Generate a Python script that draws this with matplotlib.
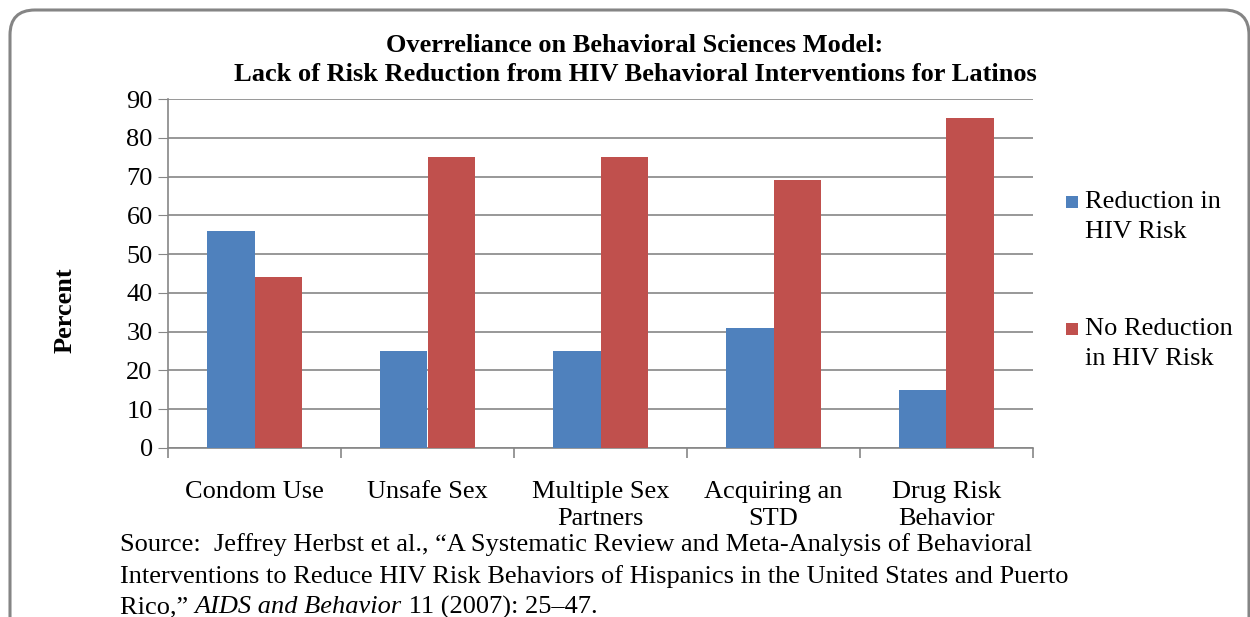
import matplotlib
matplotlib.use("Agg")
import matplotlib.pyplot as plt
import numpy as np
from matplotlib.patches import FancyBboxPatch, Rectangle

categories = ["Condom Use", "Unsafe Sex", "Multiple Sex\nPartners", "Acquiring an\nSTD", "Drug Risk\nBehavior"]
reduction = [56, 25, 25, 31, 15]
no_reduction = [44, 75, 75, 69, 85]
series_names = ["Reduction in\nHIV Risk", "No Reduction\nin HIV Risk"]
series_colors = ["#4F81BD", "#C0504D"]
yticks = [0, 10, 20, 30, 40, 50, 60, 70, 80, 90]

plt.rcParams['font.family'] = ['Liberation Serif', 'DejaVu Serif']
FS = 19
W, H = 1250, 617
fig = plt.figure(figsize=(W/100, H/100), dpi=100)

# rounded frame
frame = FancyBboxPatch((10/W, -40/H), 1239/W, (617 + 40 - 10)/H, boxstyle="round,pad=0,rounding_size=0.02",
                       transform=fig.transFigure, facecolor="white", edgecolor="#858585",
                       linewidth=2.2, mutation_aspect=W/H, zorder=-2)
fig.patches.append(frame)

ax = fig.add_axes([168/W, 1 - 448/H, (1033-168)/W, (448-99)/H])
ax.set_facecolor("none")
x = np.arange(len(categories))
bw = 0.277
ax.bar(x - bw/2, reduction, bw, color=series_colors[0], zorder=3)
ax.bar(x + bw/2, no_reduction, bw, color=series_colors[1], zorder=3)
ax.set_xlim(-0.5, len(categories) - 0.5)
ax.set_ylim(0, 90)
ax.set_yticks(yticks)
ax.yaxis.grid(True, color="#868686", linewidth=1.2, zorder=0)
ax.set_axisbelow(True)
for s in ["top", "right"]:
    ax.spines[s].set_visible(False)
for s in ["left", "bottom"]:
    ax.spines[s].set_color("#868686")
    ax.spines[s].set_linewidth(1.2)
ax.tick_params(axis="y", length=7, color="#868686", labelsize=FS, pad=4)
ax.set_xticks(x)
ax.set_xticklabels(categories, fontsize=FS, linespacing=1.3, va="top")
ax.tick_params(axis="x", length=0, pad=24)
ax.set_xticks(np.arange(len(categories) + 1) - 0.5, minor=True)
ax.tick_params(axis="x", which="minor", length=7, color="#868686", width=1.2)

fig.text(65/W, 1 - 310/H, "Percent", rotation=90, ha="center", va="center",
         fontsize=FS, fontweight="bold")

fig.text(0.5 + 0.008, 1 - 60/H, "Overreliance on Behavioral Sciences Model:\nLack of Risk Reduction from HIV Behavioral Interventions for Latinos",
         ha="center", va="center", fontsize=FS, fontweight="bold", linespacing=1.3)

# legend (manual, square aligned to first line)
leg_y = [202, 329]
for name, col, yy in zip(series_names, series_colors, leg_y):
    fig.patches.append(Rectangle((1066/W, 1 - (yy + 6)/H), 12/W, 12/H, transform=fig.transFigure,
                                 facecolor=col, edgecolor="none"))
    fig.text(1085/W, 1 - (yy - 11)/H, name, fontsize=FS, va="top", ha="left", linespacing=1.45)

fig.text(120/W, 1 - 545/H, "Source:  Jeffrey Herbst et al., \u201cA Systematic Review and Meta-Analysis of Behavioral",
         fontsize=FS, va="center")
fig.text(120/W, 1 - 577/H, "Interventions to Reduce HIV Risk Behaviors of Hispanics in the United States and Puerto",
         fontsize=FS, va="center")
t1 = fig.text(120/W, 1 - 607/H, "Rico,\u201d ", fontsize=FS, va="center")
fig.canvas.draw()
r = fig.canvas.get_renderer()
bb = t1.get_window_extent(r)
t2 = fig.text(bb.x1/W, 1 - 607/H, "AIDS and Behavior", fontsize=FS, va="center", style="italic")
bb2 = t2.get_window_extent(r)
fig.text(bb2.x1/W, 1 - 607/H, " 11 (2007): 25\u201347.", fontsize=FS, va="center")

fig.savefig("out.png", dpi=100)
